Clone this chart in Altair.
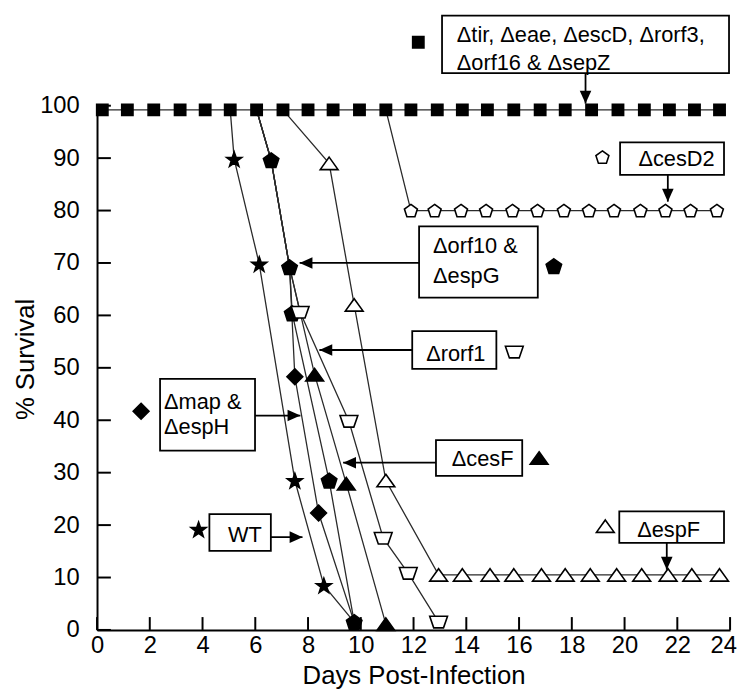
import altair as alt
import pandas as pd

FONT = "Liberation Sans"

# ---------------- data (day post-infection, % survival) -------------
sq_day = [0.2, 1.15, 2.15, 3.15, 4.1, 5.05, 6.05, 7.05, 8.0, 8.95, 9.95, 10.95, 11.9,
          12.9, 13.85, 14.8, 15.8, 16.8, 17.75, 18.75, 19.75, 20.75, 21.7, 22.65, 23.6]
sq_pct = [99.2, 99.2, 99.2, 99.2, 99.2, 99.2, 99.2, 99.2, 99.2, 99.2, 99.2, 99.2, 99.2,
          99.2, 99.2, 99.2, 99.2, 99.2, 99.2, 99.2, 99.2, 99.2, 99.2, 99.2, 99.2]

cesd2_day = [10.95, 11.9, 12.8, 13.8, 14.75, 15.75, 16.7, 17.7, 18.65, 19.6, 20.6, 21.55, 22.5, 23.5]
cesd2_pct = [99.2, 80, 80, 80, 80, 80, 80, 80, 80, 80, 80, 80, 80, 80]

espf_day = [7.05, 8.8, 9.75, 10.95, 12.95, 13.85, 14.9, 15.8, 16.85, 17.75, 18.7, 19.7,
            20.65, 21.65, 22.55, 23.6]
espf_pct = [99.2, 89, 62, 28.5, 10.5, 10.5, 10.5, 10.5, 10.5, 10.5, 10.5, 10.5, 10.5, 10.5, 10.5, 10.5]

wt_day = [5.05, 5.2, 6.15, 7.5, 8.6, 9.75]
wt_pct = [99.2, 89.8, 69.8, 28.5, 8.5, 1.5]

orf10_day = [6.05, 6.6, 7.3, 7.4, 8.8, 9.75]
orf10_pct = [99.2, 89.6, 69.2, 60.4, 28.5, 1.5]

map_day = [6.05, 6.6, 7.3, 7.5, 8.4, 9.75]
map_pct = [99.2, 89.6, 69.2, 48.3, 22.3, 1.5]

cesf_day = [6.05, 6.6, 7.3, 8.25, 9.45, 10.95]
cesf_pct = [99.2, 89.6, 69.2, 48.7, 27.9, 1.1]

rorf1_day = [6.05, 6.6, 7.3, 7.7, 9.55, 10.85, 11.8, 12.95]
rorf1_pct = [99.2, 89.6, 69.2, 60.6, 39.8, 17.5, 10.8, 1.5]

series_names = ["sq", "cesD2", "espF", "map", "cesF", "orf10", "rorf1", "WT"]
series_days = [sq_day, cesd2_day, espf_day, map_day, cesf_day, orf10_day, rorf1_day, wt_day]
series_pcts = [sq_pct, cesd2_pct, espf_pct, map_pct, cesf_pct, orf10_pct, rorf1_pct, wt_pct]

x_ticks = [0, 2, 4, 6, 8, 10, 12, 14, 16, 18, 20, 22, 24]
y_ticks = [0, 10, 20, 30, 40, 50, 60, 70, 80, 90, 100]

# ---------------- annotation texts / boxes / arrows (in data units) ----------------------
box_x1 = [13.08, 19.83, 12.21, 11.95, 12.85, 19.8, 2.39, 4.26]
box_x2 = [23.96, 23.77, 16.71, 15.14, 16.12, 23.77, 5.99, 6.59]
box_y1 = [117.2, 93.0, 77.0, 57.0, 36.2, 22.6, 47.9, 22.1]
box_y2 = [106.2, 86.8, 63.4, 49.8, 29.4, 16.6, 34.2, 15.1]

text_left_labels = ["\u0394tir, \u0394eae, \u0394escD, \u0394rorf3,", "\u0394orf16 & \u0394sepZ",
                    "\u0394orf10 &", "\u0394espG", "\u0394map &", "\u0394espH"]
text_left_x = [13.64, 13.64, 12.74, 12.74, 2.54, 2.54]
text_left_y = [113.4, 108.1, 73.2, 67.5, 43.4, 38.7]

text_center_labels = ["\u0394cesD2", "\u0394rorf1", "\u0394cesF", "\u0394espF", "WT"]
text_center_x = [21.97, 13.6, 14.62, 21.67, 5.61]
text_center_y = [89.8, 52.6, 32.6, 19.1, 18.1]

legend_series = ["sq", "cesD2", "orf10", "rorf1", "cesF", "espF", "map", "WT"]
legend_x = [12.18, 19.16, 17.32, 15.82, 16.76, 19.27, 1.67, 3.85]
legend_y = [112.1, 90.2, 69.4, 53.0, 32.8, 19.8, 41.7, 19.2]

arrow_x1 = [18.52, 21.64, 21.6, 12.21, 11.95, 12.85, 5.99, 6.59]
arrow_x2 = [18.52, 21.64, 21.6, 7.68, 8.43, 9.33, 7.71, 7.79]
arrow_y1 = [106.2, 86.8, 16.6, 70.0, 53.4, 31.9, 40.9, 17.7]
arrow_y2 = [100.4, 81.7, 11.5, 70.0, 53.4, 31.9, 40.9, 17.7]
arrow_dir = ["down", "down", "down", "left", "left", "left", "right", "right"]

# ---------------- symbol styles ----------------------------------------------------------
STAR = "M0,-0.905L0.235,-0.229L0.951,-0.214L0.38,0.219L0.588,0.904L0,0.495L-0.588,0.904L-0.38,0.219L-0.951,-0.214L-0.235,-0.229Z"
PENT = "M0,-0.905L0.951,-0.214L0.588,0.904L-0.588,0.904L-0.951,-0.214Z"
TRAP = "M-1,-0.65L1,-0.65L0.55,0.65L-0.55,0.65Z"
TRI = "M0,-0.7L1,0.7L-1,0.7Z"
DIAM = "M0,-1L1,0L0,1L-1,0Z"
style = {
    "sq": ("square", 130, "black"),
    "cesD2": (PENT, 190, "white"),
    "espF": (TRI, 324, "white"),
    "map": (DIAM, 256, "black"),
    "cesF": (TRI, 324, "black"),
    "orf10": (PENT, 270, "black"),
    "rorf1": (TRAP, 324, "white"),
    "WT": (STAR, 260, "black"),
}
ARROW = {
    "down": "M0,0L-0.45,-1L0.45,-1Z",
    "left": "M0,0L1,-0.45L1,0.45Z",
    "right": "M0,0L-1,-0.45L-1,0.45Z",
}

# ---------------- build tables -----------------------------------------------------------
rows = []
for name, ds, ps in zip(series_names, series_days, series_pcts):
    for i, (d, p) in enumerate(zip(ds, ps)):
        rows.append({"series": name, "day": d, "pct": p, "idx": i})
df = pd.DataFrame(rows)
orf_pts = set(zip(orf10_day, orf10_pct))


def visible(r):
    if r.series == "sq":
        return True
    if r.pct > 99:
        return False
    if r.series != "orf10" and (r.day, r.pct) in orf_pts:
        return False
    return True


df["show"] = [visible(r) for r in df.itertuples()]
pts = df[df["show"]][["series", "day", "pct"]]
leg = pd.DataFrame({"series": legend_series, "day": legend_x, "pct": legend_y})
marks_df = pd.concat([pts, leg], ignore_index=True)

boxes = pd.DataFrame({"day": box_x1, "day2": box_x2, "pct": box_y1, "pct2": box_y2})
tleft = pd.DataFrame({"day": text_left_x, "pct": text_left_y, "label": text_left_labels})
tcent = pd.DataFrame({"day": text_center_x, "pct": text_center_y, "label": text_center_labels})
arrows = pd.DataFrame({"day": arrow_x1, "day2": arrow_x2, "pct": arrow_y1, "pct2": arrow_y2,
                       "dir": arrow_dir})
yt = pd.DataFrame({"pct": y_ticks})
xt = pd.DataFrame({"day": x_ticks})

# ---------------- scales / axes ----------------------------------------------------------
xscale = alt.Scale(domain=[0, 24], nice=False, zero=False)
yscale = alt.Scale(domain=[0, 100], nice=False, zero=False)
xaxis = alt.Axis(values=x_ticks, title="Days Post-Infection", grid=False, ticks=False,
                 tickSize=0, labelFontSize=24, labelPadding=4, labelFlush=False,
                 labelOffset=alt.ExprRef(expr="datum.value == 24 ? -7 : 0"),
                 labelOverlap=False, labelFont=FONT, labelColor="black",
                 titleFont=FONT, titleFontSize=26, titleFontWeight="normal",
                 titleColor="black", titleX=320, titleY=54, titleBaseline="alphabetic",
                 domainColor="black", domainWidth=2)
yaxis = alt.Axis(values=y_ticks, title="% Survival", grid=False, ticks=False,
                 tickSize=0, labelFontSize=24, labelPadding=18, labelFlush=False,
                 labelOverlap=False, labelFont=FONT, labelColor="black",
                 titleFont=FONT, titleFontSize=26, titleFontWeight="normal",
                 titleColor="black", titleAngle=270, titleX=-72, titleY=256,
                 titleAlign="center", titleBaseline="middle",
                 domainColor="black", domainWidth=2)


def X(f="day"):
    return alt.X(f + ":Q", scale=xscale, axis=xaxis)


def Y(f="pct"):
    return alt.Y(f + ":Q", scale=yscale, axis=yaxis)


layers = []

# inward tick marks
layers.append(alt.Chart(yt).mark_rule(color="black", strokeWidth=2).encode(
    y=Y(), x=alt.value(0), x2=alt.value(14)))
layers.append(alt.Chart(xt).mark_rule(color="black", strokeWidth=2).encode(
    x=X(), y=alt.value(530), y2=alt.value(517)))

# survival lines
layers.append(alt.Chart(df).mark_line(color="#2a2a2a", strokeWidth=1.3).encode(
    x=X(), y=Y(), detail="series:N", order="idx:Q"))

# annotation boxes, arrows
layers.append(alt.Chart(boxes).mark_rect(fill="white", stroke="black", strokeWidth=1.8).encode(
    x=X(), x2="day2:Q", y=Y(), y2="pct2:Q"))
layers.append(alt.Chart(arrows).mark_rule(color="black", strokeWidth=1.8).encode(
    x=X(), x2="day2:Q", y=Y(), y2="pct2:Q"))
for d, path in ARROW.items():
    layers.append(alt.Chart(arrows).transform_filter(alt.datum.dir == d).mark_point(
        shape=path, size=676, filled=True, color="black", opacity=1).encode(
        x=X("day2"), y=Y("pct2")))

# markers
for name in series_names:
    shape, size, fill = style[name]
    layers.append(alt.Chart(marks_df).transform_filter(alt.datum.series == name).mark_point(
        shape=shape, size=size, filled=True, fill=fill, stroke="black", strokeWidth=1.6,
        opacity=1, fillOpacity=1).encode(x=X(), y=Y()))

# texts
layers.append(alt.Chart(tleft).mark_text(align="left", baseline="middle", font=FONT,
                                         fontSize=22, color="black").encode(
    x=X(), y=Y(), text="label:N"))
layers.append(alt.Chart(tcent).mark_text(align="center", baseline="middle", font=FONT,
                                         fontSize=22, color="black").encode(
    x=X(), y=Y(), text="label:N"))

chart = alt.layer(*layers).properties(
    width=640, height=530,
    autosize=alt.AutoSizeParams(type="none"),
    padding={"left": 90, "top": 95, "right": 7, "bottom": 63},
    background="white",
).configure_view(stroke=None)

chart.save("out.html", embed_options={"renderer": "svg", "actions": False})
